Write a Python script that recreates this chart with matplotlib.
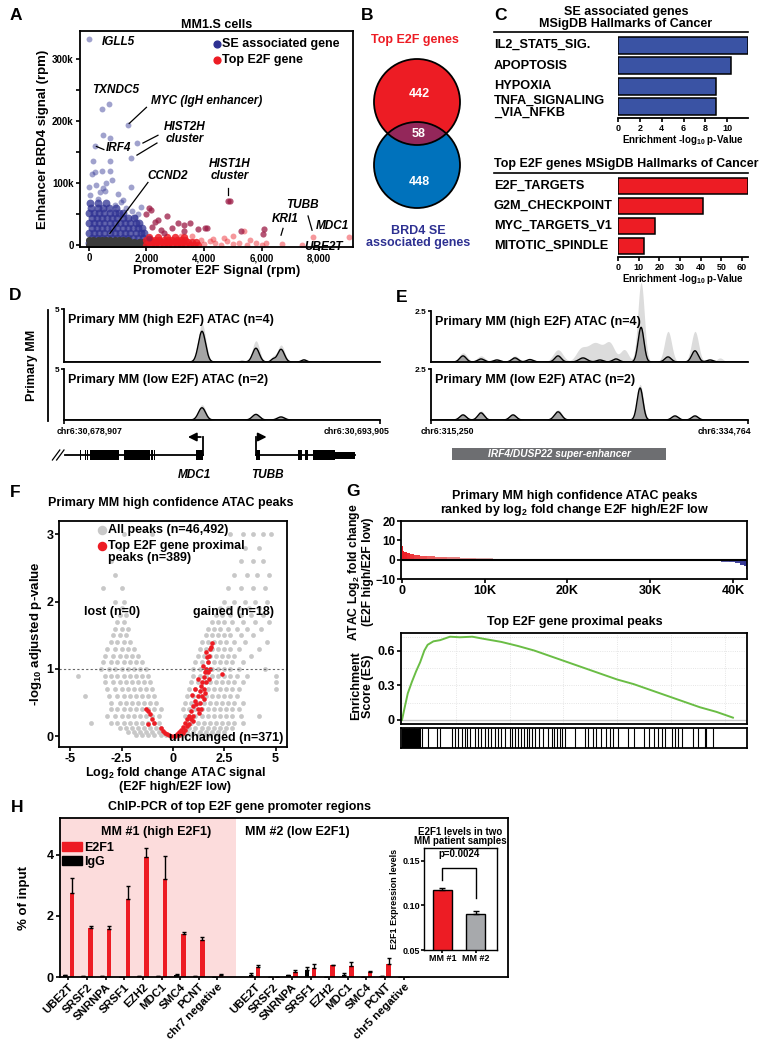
import numpy as np
import matplotlib
matplotlib.use('Agg')
import matplotlib.pyplot as plt
import matplotlib.transforms as mtrans
from matplotlib.patches import Circle, Rectangle
from matplotlib.lines import Line2D
from matplotlib.colors import LinearSegmentedColormap

plt.rcParams['font.family'] = ['Liberation Sans', 'DejaVu Sans']
plt.rcParams['font.weight'] = 'bold'
plt.rcParams['axes.labelweight'] = 'bold'
plt.rcParams['mathtext.fontset'] = 'custom'
plt.rcParams['mathtext.rm'] = 'Liberation Sans:bold'
plt.rcParams['mathtext.bf'] = 'Liberation Sans:bold'
plt.rcParams['mathtext.it'] = 'Liberation Sans:bold:italic'
plt.rcParams['mathtext.default'] = 'bf'
plt.rcParams['axes.linewidth'] = 1.3
plt.rcParams['xtick.major.width'] = 1.2
plt.rcParams['ytick.major.width'] = 1.2
plt.rcParams['xtick.major.size'] = 3
plt.rcParams['ytick.major.size'] = 3

RED = '#ED1C24'
BLUE = '#2E3192'
VBLUE = '#0072BC'
PURPLE = '#93275A'
MAROON = '#9B1B45'

# ---------------- A: MM1.S scatter (x: promoter E2F rpm, y: enhancer BRD4 k rpm)
se_out_x = [0, 450, 700, 1350, 1670, 1460, 209, 500, 750, 150, 750, 750, 200, 120, 0, 450,
            1450, 500, 550, 50, 300, 1200, 1100, 900, 600, 1000, 250, 800, 400, 1300, 1500,
            1700, 1800, 1600]
se_out_y = [332, 220, 228, 193, 164, 140, 160, 178, 172, 135, 135, 120, 118, 115, 93, 120,
            93, 92, 88, 80, 75, 72, 70, 65, 100, 82, 97, 105, 85, 60, 55, 50, 62, 45]
se_rows = {
    4: [0, 180, 360, 540, 720, 900, 1080, 1260, 1440, 1620, 1800, 1950],
    12: [90, 270, 450, 630, 810, 990, 1170, 1350, 1530, 1710, 1890],
    20: [0, 180, 360, 540, 720, 900, 1080, 1260, 1440, 1620, 1800, 1920],
    28: [90, 270, 450, 630, 810, 990, 1170, 1350, 1530, 1710, 1850],
    36: [0, 180, 360, 540, 720, 900, 1080, 1260, 1440, 1620, 1750],
    44: [90, 270, 450, 630, 810, 990, 1170, 1350, 1550],
    52: [0, 180, 360, 540, 720, 900, 1050, 1200],
    60: [80, 300, 500, 700, 950],
    68: [50, 300, 600],
}
bg_rows = {
    1: [0, 150, 300, 450, 600, 750, 900, 1050, 1200, 1350, 1500, 1650, 1800, 1950],
    5: [80, 230, 380, 530, 680, 830, 980, 1130, 1280, 1430, 1580, 1730, 1880],
    8: [0, 150, 300, 450, 600, 750, 900, 1050, 1200, 1350],
}
e2f_rows = {
    1: [2000, 2150, 2300, 2450, 2600, 2750, 2900, 3050, 3200, 3350, 3500, 3650, 3800],
    5: [2080, 2230, 2380, 2530, 2680, 2830, 2980, 3130, 3280, 3430, 3580, 3730],
    9: [2000, 2150, 2300, 2450, 2600, 2750, 2900, 3050, 3200, 3350],
    13: [2100, 2400, 2700, 3000, 3300],
}
e2f_out_x = [4000, 4200, 4400, 4600, 4800, 5000, 5200, 5500, 5800, 6000, 6150, 4300, 4700,
             3600, 3200, 5000, 5600, 6700, 7400, 7800, 9050, 5400, 3900]
e2f_out_y = [2, 6, 3, 1, 6, 2, 4, 1, 3, 1, 3, 10, 12, 15, 14, 15, 8, 2, 0, 13, 13, 22, 8]
both_x = [2100, 2150, 2000, 2700, 2400, 2300, 3100, 3300, 4050, 4100, 4850, 4900, 6100, 6050,
          2500, 3300, 2200, 2600, 2900, 3500, 5300, 3800, 2100]
both_y = [60, 56, 50, 47, 40, 38, 35, 32, 28, 27, 71, 71, 26, 18, 25, 22, 30, 20, 28, 35,
          22, 26, 12]

# ---------------- B: venn
venn_counts = [442, 58, 448]

# ---------------- C: hallmark enrichment
c1_terms = ['IL2_STAT5_SIG.', 'APOPTOSIS', 'HYPOXIA', 'TNFA_SIGNALING\n_VIA_NFKB']
c1_vals = [11.9, 10.3, 9.0, 9.0]
c2_terms = ['E2F_TARGETS', 'G2M_CHECKPOINT', 'MYC_TARGETS_V1', 'MITOTIC_SPINDLE']
c2_vals = [62.8, 41.1, 17.9, 12.6]

# ---------------- D/E: ATAC tracks, peaks as (centre kb, height, width kb)
d_span = 14.998
d_hi_mean = [(6.55, 2.9, 0.17), (8.45, 0.05, 0.1), (9.11, 1.3, 0.16), (9.92, 0.25, 0.1),
             (10.3, 1.2, 0.16), (11.39, 0.2, 0.12)]
d_hi_max = [(6.55, 3.6, 0.18), (9.11, 2.0, 0.17), (9.92, 0.45, 0.12), (10.3, 1.6, 0.17),
            (11.39, 0.3, 0.14), (12.29, 0.15, 0.1)]
d_lo_mean = [(6.55, 1.2, 0.17), (9.11, 0.55, 0.17), (10.3, 0.3, 0.17)]
d_lo_max = [(6.55, 1.5, 0.18), (9.11, 0.65, 0.18), (10.3, 0.38, 0.18)]
e_span = 19.514
e_hi_mean = [(1.97, 0.3, 0.2), (3.08, 0.15, 0.2), (4.06, 0.1, 0.2), (5.17, 0.2, 0.2),
             (6.09, 0.12, 0.2), (7.82, 0.3, 0.2), (9.36, 0.2, 0.25), (10.4, 0.1, 0.2),
             (11.39, 0.15, 0.2), (12.93, 1.7, 0.18), (14.59, 0.25, 0.2), (16.25, 0.55, 0.2),
             (17.18, 0.1, 0.2)]
e_hi_max = [(1.97, 0.45, 0.25), (3.08, 0.3, 0.25), (5.17, 0.3, 0.25), (7.82, 0.6, 0.3),
            (9.2, 0.5, 0.3), (10.1, 0.95, 0.5), (11.02, 0.8, 0.3), (11.9, 0.6, 0.25),
            (12.93, 3.9, 0.2), (14.59, 1.5, 0.22), (16.25, 1.5, 0.22), (17.79, 0.2, 0.2)]
e_lo_mean = [(1.97, 0.25, 0.2), (3.08, 0.35, 0.2), (5.05, 0.25, 0.2), (7.82, 0.4, 0.22),
             (12.87, 1.57, 0.18), (15.02, 0.2, 0.2), (16.25, 0.2, 0.2)]
e_lo_max = [(1.97, 0.3, 0.22), (3.08, 0.45, 0.22), (5.05, 0.3, 0.22), (7.82, 0.5, 0.24),
            (12.87, 1.75, 0.2), (15.02, 0.25, 0.22), (16.25, 0.25, 0.22)]
# gene models (kb from track start): exon start, end, height
mdc1_exons = [(0.74, 0.8, 10), (0.98, 1.04, 10), (1.1, 1.16, 10), (1.23, 2.61, 10),
              (2.85, 4.08, 10), (4.15, 4.21, 10), (4.25, 4.31, 10), (6.27, 6.6, 10)]
mdc1_span = (0.05, 6.6)
tubb_exons = [(9.11, 9.3, 10), (11.1, 11.3, 10), (11.44, 11.58, 10), (11.82, 12.86, 10),
              (12.86, 13.81, 7)]
tubb_span = (9.11, 13.81)
se_region = (1.29, 14.47)

# ---------------- F: volcano
vol_rows = {
    0.02: [-1.8, -1.5, -1.2, -0.9, -0.6, -0.35, 0.35, 0.6, 0.9, 1.2, 1.5, 1.8, 2.1],
    0.06: [-2.2, -1.9, -1.6, -1.3, -1.0, -0.7, -0.5, 0.5, 0.7, 1.0, 1.3, 1.6, 1.9, 2.2, 2.5],
    0.12: [-2.6, -2.3, -2.0, -1.7, -1.4, -1.1, -0.8, -0.6, 0.6, 0.8, 1.1, 1.4, 1.7, 2.0, 2.3,
           2.6, 2.9],
    0.2: [-3.0, -2.7, -2.4, -2.1, -1.8, -1.5, -1.2, -0.9, -0.7, 0.7, 0.9, 1.2, 1.5, 1.8, 2.1,
          2.4, 2.7, 3.0, 3.4, -4.0],
    0.3: [-3.2, -2.8, -2.5, -2.2, -1.9, -1.6, -1.3, -1.0, -0.7, 0.6, 0.8, 1.1, 1.4, 1.7, 2.0,
          2.3, 2.6, 2.9, 3.3, 4.2],
    0.4: [-3.0, -2.7, -2.4, -2.1, -1.8, -1.5, -1.2, -0.9, -0.6, 0.5, 0.8, 1.1, 1.4, 1.7, 2.0,
          2.3, 2.6, 2.9, 3.2],
    0.5: [-3.0, -2.6, -2.3, -2.0, -1.7, -1.4, -1.1, -0.8, 0.6, 0.9, 1.2, 1.5, 1.8, 2.1, 2.4,
          2.7, 3.0, 3.4],
    0.6: [-3.1, -2.7, -2.4, -2.1, -1.8, -1.5, -1.2, -0.9, 0.7, 1.0, 1.3, 1.6, 1.9, 2.2, 2.5,
          2.8, 3.1, -4.3],
    0.7: [-3.2, -2.8, -2.5, -2.2, -1.9, -1.6, -1.3, -1.0, 0.8, 1.1, 1.4, 1.7, 2.0, 2.3, 2.6,
          2.9, 3.2, 5.0],
    0.8: [-3.3, -2.9, -2.6, -2.3, -2.0, -1.7, -1.4, -1.1, 0.9, 1.2, 1.5, 1.8, 2.1, 2.4, 2.7,
          3.0, 3.4, 5.0],
    0.9: [-3.3, -3.0, -2.7, -2.4, -2.1, -1.8, -1.5, -1.2, 1.0, 1.3, 1.6, 1.9, 2.2, 2.5, 2.8,
          3.1, 3.6, 5.0, -4.6],
    1.0: [-3.5, -3.1, -2.8, -2.5, -2.2, -1.9, -1.6, -1.3, 1.0, 1.3, 1.6, 1.9, 2.2, 2.5, 2.8,
          3.2, 4.5],
    1.1: [-3.4, -3.0, -2.7, -2.4, -2.1, -1.8, -1.5, 1.1, 1.4, 1.7, 2.0, 2.3, 2.6, 2.9, 3.4],
    1.2: [-3.3, -2.9, -2.6, -2.3, -2.0, -1.7, 1.2, 1.5, 1.8, 2.1, 2.4, 2.7, 3.0, 3.8],
    1.3: [-3.2, -2.8, -2.5, -2.2, -1.9, 1.3, 1.6, 1.9, 2.2, 2.5, 2.8, 3.2, 4.2],
    1.4: [-3.0, -2.7, -2.4, -2.1, 1.4, 1.7, 2.0, 2.3, 2.6, 3.0, 3.5, 4.6],
    1.5: [-2.9, -2.6, -2.3, 1.6, 1.9, 2.2, 2.5, 2.8, 3.3, 3.9],
    1.6: [-2.8, -2.5, -2.2, 1.7, 2.0, 2.3, 2.7, 3.1, 3.6, 4.3],
    1.7: [-2.7, -2.4, 1.9, 2.2, 2.5, 2.9, 3.4, 4.0, 4.7],
    1.8: [-2.6, -2.3, 2.1, 2.4, 2.8, 3.3, 3.8, 4.4],
    1.9: [-2.5, 2.3, 2.7, 3.2, 3.7, 4.2],
    2.0: [-2.4, -2.8, 2.5, 3.0, 3.5, 4.0, 4.6],
    2.2: [-2.5, -3.4, 2.7, 3.3, 3.9, 4.5],
    2.4: [-2.8, 3.0, 3.6, 4.1, 4.7],
    2.6: [-3.0, 3.3, 3.9, 4.4],
    2.8: [-2.6, 3.5, 4.2],
    3.0: [-2.4, -1.0, 2.8, 3.4, 3.9, 4.4, 4.8],
}
vred_x = [-1.3, -1.2, -1.1, -1.0, -0.9, -1.2, -0.6, -0.5, -0.4, -0.3, -0.2, -0.1, 0.05, 0.1,
          0.2, 0.3, 0.4, 0.5, 0.6, 0.7, 0.8, 0.9, 1.0, 1.1, 1.2, 1.3, 1.35, 1.4, 1.5, 1.55,
          1.6, 1.7, 1.75, 1.8, 1.9, 1.85, 2.4, 1.6, 0.9, 1.2, 1.4, 1.1, 1.5, 1.3, 0.7, 0.5,
          1.0, 1.6, 1.2, 1.7, 1.45, 1.65, 0.3, 0.6, 0.8, 1.0, 1.25, 1.5, 1.75, 1.35, 1.15,
          0.95, 1.55, 1.8]
vred_y = [0.40, 0.37, 0.33, 0.25, 0.20, 0.18, 0.12, 0.08, 0.05, 0.03, 0.02, 0.01, 0.0, 0.01,
          0.03, 0.06, 0.10, 0.13, 0.20, 0.25, 0.30, 0.38, 0.45, 0.52, 0.60, 0.68, 0.75, 0.80,
          0.88, 0.95, 1.00, 1.10, 1.20, 1.30, 1.38, 1.33, 0.93, 1.25, 0.25, 0.40, 0.60, 0.70,
          0.70, 0.50, 0.15, 0.05, 0.30, 0.80, 0.85, 0.95, 1.05, 1.18, 0.02, 0.10, 0.18, 0.22,
          0.35, 0.55, 0.85, 0.40, 0.48, 0.62, 0.65, 1.0]

# ---------------- G: ranked fold change, running ES, hit positions (K ranks)
rank_k = [0, 0.05, 0.15, 0.3, 0.6, 1.0, 1.5, 2.2, 3.0, 4.0, 5.5, 7.0, 9.0, 11.0, 13.5, 16.0,
          19.0, 22.0, 25.0, 27.0, 29.0, 31.0, 33.0, 35.0, 37.0, 38.5, 39.5, 40.3, 40.9, 41.3,
          41.6]
lfc = [19.0, 7.0, 4.5, 3.8, 3.3, 2.8, 2.4, 2.0, 1.7, 1.4, 1.2, 1.0, 0.8, 0.6, 0.45, 0.3,
       0.15, 0.05, -0.05, -0.15, -0.25, -0.35, -0.5, -0.7, -0.9, -1.1, -1.4, -1.8, -2.5,
       -3.5, -5.0]
es_rank = [0, 0.3, 0.7, 1.2, 1.7, 2.2, 2.7, 3.1, 3.8, 4.6, 5.2, 5.8, 7.0, 8.5, 10.0, 12.0,
           14.0, 16.0, 18.0, 20.0, 22.0, 24.0, 26.0, 28.0, 30.0, 32.0, 34.0, 36.0, 38.0, 40.0]
es = [0, 0.1, 0.23, 0.33, 0.42, 0.5, 0.6, 0.65, 0.68, 0.69, 0.705, 0.72, 0.715, 0.72, 0.7,
      0.675, 0.64, 0.6, 0.55, 0.5, 0.45, 0.4, 0.35, 0.31, 0.26, 0.21, 0.16, 0.11, 0.07, 0.02]
hits = [0, 0.1, 0.2, 0.3, 0.4, 0.5, 0.6, 0.7, 0.8, 0.9, 1.0, 1.1, 1.2, 1.3, 1.4, 1.5, 1.6,
        1.7, 1.8, 1.9, 2.0, 2.1, 2.2, 2.38, 3.1, 4.19, 4.59, 6.0, 6.4, 6.8, 7.2, 7.6, 7.8,
        8.2, 8.8, 9.2, 9.6, 10.0, 10.4, 10.8, 11.2, 11.6, 12.0, 12.4, 13.05, 13.3, 13.6,
        14.05, 14.4, 14.7, 15.1, 15.3, 15.7, 16.1, 16.5, 17.1, 17.7, 18.1, 18.4, 18.7, 19.1,
        19.4, 19.7, 20.9, 22.1, 22.5, 23.1, 23.5, 24.1, 24.7, 25.1, 25.5, 26.1, 27.3, 28.1,
        29.2, 29.8, 30.4, 31.0, 31.4, 31.8, 32.6, 33.0, 33.4, 33.8, 35.2, 35.8, 36.6, 36.8,
        37.6]

# ---------------- H: ChIP-PCR (% of input)
h_genes1 = ['UBE2T', 'SRSF2', 'SNRNPA', 'SRSF1', 'EZH2', 'MDC1', 'SMC4', 'PCNT', 'chr7 negative']
h_genes2 = ['UBE2T', 'SRSF2', 'SNRNPA', 'SRSF1', 'EZH2', 'MDC1', 'SMC4', 'PCNT', 'chr5 negative']
e2f1_mm1 = [2.75, 1.6, 1.57, 2.55, 3.93, 3.2, 1.41, 1.22, 0.07]
e2f1_mm1_err = [0.5, 0.07, 0.1, 0.43, 0.3, 0.76, 0.07, 0.08, 0.04]
igg_mm1 = [0.05, 0.02, 0.03, 0.0, 0.02, 0.03, 0.07, 0.03, 0.0]
igg_mm1_err = [0.01, 0.01, 0.01, 0.0, 0.01, 0.01, 0.02, 0.01, 0.0]
e2f1_mm2 = [0.33, 0.0, 0.15, 0.3, 0.38, 0.35, 0.15, 0.43, 0.0]
e2f1_mm2_err = [0.05, 0.0, 0.07, 0.12, 0.02, 0.15, 0.03, 0.2, 0.0]
igg_mm2 = [0.08, 0.0, 0.05, 0.22, 0.01, 0.08, 0.0, 0.03, 0.01]
igg_mm2_err = [0.06, 0.0, 0.02, 0.1, 0.0, 0.05, 0.0, 0.01, 0.0]
inset_samples = ['MM #1', 'MM #2']
inset_vals = [0.117, 0.091]
inset_err = [0.003, 0.003]

# ======================================================================
W, H = 766.0, 1050.0
fig = plt.figure(figsize=(7.66, 10.5), dpi=100)


def pax(x0, y0, x1, y1):
    return fig.add_axes([x0 / W, 1 - y1 / H, (x1 - x0) / W, (y1 - y0) / H])


def ftxt(x, y, s, **kw):
    kw.setdefault('ha', 'center')
    kw.setdefault('va', 'center')
    return fig.text(x / W, 1 - y / H, s, **kw)


def fline(xs, ys, **kw):
    fig.add_artist(Line2D([x / W for x in xs], [1 - y / H for y in ys], **kw))


def flat(rows):
    xs = [x for k, v in rows.items() for x in v]
    ys = [k for k, v in rows.items() for x in v]
    return xs, ys


for letter, x, y in [('A', 16, 16), ('B', 367, 16), ('C', 500, 15), ('D', 15, 295),
                     ('E', 402, 298), ('F', 15, 493), ('G', 353, 491), ('H', 17, 808)]:
    ftxt(x, y, letter, fontsize=12.5)

# ---------------- A
ax = pax(80, 31, 353, 247)
bx, by = flat(se_rows)
ax.scatter(bx, by, s=32, color=BLUE, alpha=0.75, lw=0)
ax.scatter(se_out_x, se_out_y, s=18, color=BLUE, alpha=0.45, lw=0)
gx, gy = flat(bg_rows)
ax.scatter(gx, gy, s=26, color='#3C3C3C', lw=0)
rx, ry = flat(e2f_rows)
ax.scatter(rx, ry, s=28, color=RED, alpha=0.85, lw=0)
ax.scatter(e2f_out_x, e2f_out_y, s=18, color=RED, alpha=0.45, lw=0)
ax.scatter(both_x, both_y, s=20, color=MAROON, alpha=0.75, lw=0)
ax.set_xlim(-310, 9180)
ax.set_ylim(-3, 345)
ax.set_yticks([0, 100, 200, 300])
ax.set_yticklabels(['0', '100k', '200k', '300k'], fontsize=7)
ax.set_yticks([50, 150, 250], minor=True)
ax.tick_params(axis='y', which='minor', length=3, width=1.2)
ax.set_xticks([0, 2000, 4000, 6000, 8000])
ax.set_xticklabels(['0', '2,000', '4,000', '6,000', '8,000'], fontsize=7)
ax.tick_params(axis='both', pad=1.5)
ax.set_title('MM1.S cells', fontsize=9, fontweight='bold', pad=2)
ax.set_ylabel('Enhancer BRD4 signal (rpm)', fontsize=9.5, labelpad=2)
ax.set_xlabel('Promoter E2F Signal (rpm)', fontsize=9.5, labelpad=1)
ax.scatter([0.502], [0.94], s=24, color=BLUE, transform=ax.transAxes)
ax.scatter([0.502], [0.866], s=24, color=RED, transform=ax.transAxes)
ax.text(0.52, 0.94, 'SE associated gene', transform=ax.transAxes, fontsize=9, va='center')
ax.text(0.52, 0.866, 'Top E2F gene', transform=ax.transAxes, fontsize=9, va='center')
it = dict(fontsize=8.5, fontstyle='italic', va='center')
ax.text(452, 327, 'IGLL5', **it)
ax.text(104, 250, 'TXNDC5', **it)
ax.text(2150, 232, 'MYC (IgH enhancer)', **it)
ax.plot([1400, 2000], [196, 222], color='k', lw=0.9)
ax.text(3339, 181, 'HIST2H\ncluster', ha='center', va='center', fontsize=8.5,
        fontstyle='italic', linespacing=0.95)
ax.plot([1878, 2400], [164.5, 177], color='k', lw=0.9)
ax.plot([1670, 2365], [145, 164.5], color='k', lw=0.9)
ax.text(591, 156, 'IRF4', **it)
ax.plot([260, 520], [159, 154], color='k', lw=0.9)
ax.text(2017, 111, 'CCND2', **it)
ax.plot([2052, 730], [101, 19], color='k', lw=0.9)
ax.text(4904, 121, 'HIST1H\ncluster', ha='center', va='center', fontsize=8.5,
        fontstyle='italic', linespacing=0.95)
ax.plot([4850, 4850], [92, 80], color='k', lw=0.9)
ax.text(6850, 64.5, 'TUBB', **it)
ax.plot([7617, 7757], [47, 24], color='k', lw=0.9)
ax.text(6350, 42, 'KRI1', **it)
ax.plot([6748, 6678], [27, 16], color='k', lw=0.9)
ax.text(7900, 30.6, 'MDC1', **it)
ax.text(7500, -3, 'UBE2T', **it)

# ---------------- B
ax = pax(365, 50, 475, 215)
ax.set_xlim(365, 475)
ax.set_ylim(215, 50)
ax.axis('off')
c_red = Circle((417, 102), 43, fc=RED, ec='none')
c_blue = Circle((417, 165), 43, fc=VBLUE, ec='none')
ax.add_patch(c_red)
ax.add_patch(c_blue)
lens = Circle((417, 102), 43, fc=PURPLE, ec='none')
ax.add_patch(lens)
lens.set_clip_path(c_blue)
ax.add_patch(Circle((417, 102), 43, fc='none', ec='k', lw=1.3))
ax.add_patch(Circle((417, 165), 43, fc='none', ec='k', lw=1.3))
ax.text(419, 94, str(venn_counts[0]), color='white', fontsize=9, ha='center', va='center')
ax.text(419, 134, str(venn_counts[1]), color='white', fontsize=9, ha='center', va='center')
ax.text(419, 182, str(venn_counts[2]), color='white', fontsize=9, ha='center', va='center')
ftxt(415, 40, 'Top E2F genes', color=RED, fontsize=9)
ftxt(418, 237, 'BRD4 SE\nassociated genes', color=BLUE, fontsize=9, linespacing=1.05)


# ---------------- C
def hallmark(y0, y1, terms, vals, color, xmax, ticks):
    a = pax(618, y0, 748, y1)
    pos = np.arange(len(terms))
    a.barh(pos, vals, height=0.82, color=color, edgecolor='k', lw=1.1)
    a.set_ylim(len(terms) - 0.45, -0.5)
    a.set_xlim(0, xmax)
    for s in ['left', 'top', 'right']:
        a.spines[s].set_visible(False)
    a.set_yticks([])
    a.set_xticks(ticks)
    a.tick_params(axis='x', labelsize=6.5, pad=1)
    tr = mtrans.blended_transform_factory(fig.transFigure, a.transData)
    for i, t in enumerate(terms):
        a.text(494 / W, i, t, transform=tr, ha='left', va='center', fontsize=9.2,
               linespacing=0.92)
    return a


a = hallmark(35, 118, c1_terms, c1_vals, '#3A53A4', 11.9, [0, 2, 4, 6, 8, 10])
a.set_xlabel('Enrichment -log$_{10}$ p-Value', fontsize=7, labelpad=0.5)
ftxt(626, 12, 'SE associated genes', fontsize=9)
ftxt(626, 24, 'MSigDB Hallmarks of Cancer', fontsize=9)
fline([494, 748], [32, 32], color='k', lw=1.2)
a = hallmark(176, 257, c2_terms, c2_vals, RED, 62.9, [0, 10, 20, 30, 40, 50, 60])
a.set_xlabel('Enrichment -log$_{10}$ p-Value', fontsize=7, labelpad=0.5)
ftxt(626, 164, 'Top E2F genes MSigDB Hallmarks of Cancer', fontsize=9)
fline([494, 748], [173, 173], color='k', lw=1.2)


# ---------------- D / E
def peak_curve(grid, peaks):
    out = np.zeros_like(grid)
    for c, h, w in peaks:
        out += h * np.exp(-0.5 * ((grid - c) / w) ** 2)
    return out


def track(box, span, ymax, mean_pk, max_pk, label, tlabel, ends):
    a = pax(*box)
    g = np.linspace(0, span, 1500)
    m = peak_curve(g, mean_pk)
    mx = np.maximum(peak_curve(g, max_pk), m)
    a.fill_between(g, 0, mx, color='#DCDCDC', lw=0, clip_on=False)
    a.fill_between(g, 0, m, color='#A4A4A4', lw=0)
    a.plot(g, m, color='k', lw=1.0)
    a.set_xlim(0, span)
    a.set_ylim(0, ymax)
    a.spines['top'].set_visible(False)
    a.spines['right'].set_visible(False)
    a.set_yticks([ymax])
    a.set_yticklabels([tlabel], fontsize=6)
    a.tick_params(axis='y', length=2, pad=1)
    if ends:
        a.set_xticks([0, span])
        a.set_xticklabels(['', ''])
    else:
        a.set_xticks([])
    frac = 1 - 11.0 / (box[3] - box[1])
    a.text(0.012, frac, label, transform=a.transAxes, fontsize=9, va='center')
    return a


track((64, 309, 380, 362), d_span, 5, d_hi_mean, d_hi_max,
      'Primary MM (high E2F) ATAC (n=4)', '5', False)
track((64, 369, 380, 420), d_span, 5, d_lo_mean, d_lo_max,
      'Primary MM (low E2F) ATAC (n=2)', '5', True)
ftxt(57, 431, 'chr6:30,678,907', fontsize=6.3, ha='left')
ftxt(390, 431, 'chr6:30,693,905', fontsize=6.3, ha='right')
ftxt(32, 365, 'Primary MM', fontsize=9, rotation=90)
fline([48, 48], [310, 421], color='k', lw=1.3)

track((431, 311, 748, 362), e_span, 2.5, e_hi_mean, e_hi_max,
      'Primary MM (high E2F) ATAC (n=4)', '2.5', False)
track((431, 369, 748, 420), e_span, 2.5, e_lo_mean, e_lo_max,
      'Primary MM (low E2F) ATAC (n=2)', '2.5', True)
ftxt(421, 431, 'chr6:315,250', fontsize=6.3, ha='left')
ftxt(751, 431, 'chr6:334,764', fontsize=6.3, ha='right')

# gene models under D
ga = pax(40, 435, 383, 482)
ga.set_xlim(-1.139, 15.142)
ga.set_ylim(47, 0)
ga.axis('off')
ga.plot(mdc1_span, [20, 20], color='k', lw=1.3)
ga.plot(tubb_span, [20, 20], color='k', lw=1.3)
for s, e, h in mdc1_exons + tubb_exons:
    ga.add_patch(Rectangle((s, 20 - h / 2), e - s, h, color='k', lw=0))
ga.plot([-0.55, -0.2], [25, 15], color='k', lw=0.9)
ga.plot([-0.35, 0.0], [25, 15], color='k', lw=0.9)
ga.plot([mdc1_span[1], mdc1_span[1]], [20, 2], color='k', lw=1.3)
ga.annotate('', xy=(5.75, 2), xytext=(mdc1_span[1] + 0.03, 2),
            arrowprops=dict(arrowstyle='-|>,head_length=0.5,head_width=0.25', lw=1.3, color='k'))
ga.plot([tubb_span[0], tubb_span[0]], [20, 2], color='k', lw=1.3)
ga.annotate('', xy=(9.75, 2), xytext=(tubb_span[0] - 0.03, 2),
            arrowprops=dict(arrowstyle='-|>,head_length=0.5,head_width=0.25', lw=1.3, color='k'))
ga.text(6.2, 40, 'MDC1', fontsize=8.5, fontstyle='italic', ha='center', va='center')
ga.text(9.65, 40, 'TUBB', fontsize=8.5, fontstyle='italic', ha='center', va='center')

# super-enhancer bar under E
sa = pax(431, 446, 748, 462)
sa.set_xlim(0, e_span)
sa.set_ylim(0, 1)
sa.axis('off')
sa.add_patch(Rectangle((se_region[0], 0.1), se_region[1] - se_region[0], 0.75,
                       color='#6D6E71', lw=0))
sa.text(sum(se_region) / 2, 0.48, 'IRF4/DUSP22 super-enhancer', color='white',
        fontsize=7.3, fontstyle='italic', ha='center', va='center')

# ---------------- F
ax = pax(59, 521, 287, 747)
vx, vy = flat(vol_rows)
ax.scatter(vx, vy, s=12, color='#C8C8C8', lw=0)
ax.scatter(vred_x, vred_y, s=11, color=RED, lw=0)
ax.axhline(1, color='#666666', lw=0.8, ls=(0, (2, 2)))
ax.set_xlim(-5.55, 5.56)
ax.set_ylim(-0.16, 3.2)
ax.set_xticks([-5, -2.5, 0, 2.5, 5])
ax.set_xticklabels(['-5', '-2.5', '0', '2.5', '5'])
ax.set_yticks([0, 1, 2, 3])
ax.tick_params(labelsize=9, pad=1)
ax.scatter([0.189], [0.96], s=34, color='#C8C8C8', transform=ax.transAxes)
ax.scatter([0.189], [0.889], s=34, color=RED, transform=ax.transAxes)
ax.text(0.215, 0.96, 'All peaks (n=46,492)', transform=ax.transAxes, fontsize=9, va='center')
ax.text(0.215, 0.915, 'Top E2F gene proximal\npeaks (n=389)', transform=ax.transAxes,
        fontsize=9, va='top', linespacing=0.95)
ax.text(-2.95, 1.845, 'lost (n=0)', fontsize=9, ha='center', va='center')
ax.text(2.95, 1.845, 'gained (n=18)', fontsize=9, ha='center', va='center')
ax.text(2.6, -0.03, 'unchanged (n=371)', fontsize=9, ha='center', va='center')
ftxt(171, 503, 'Primary MM high confidence ATAC peaks', fontsize=9)
ftxt(36, 634, '-log$_{10}$ adjusted p-value', fontsize=9.5, rotation=90)
ftxt(175, 773, 'Log$_2$ fold change ATAC signal', fontsize=9)
ftxt(175, 787, '(E2F high/E2F low)', fontsize=9)

# ---------------- G
ax = pax(401, 521, 747, 579)
edges = rank_k + [41.7]
widths = np.diff(edges)
cmap = LinearSegmentedColormap.from_list('rk', [(0, RED), (0.06, '#EE5A5A'), (0.2, '#E2AAAA'),
                                                 (0.3, '#CFCFCF'), (0.42, '#F4F4F4'),
                                                 (0.62, '#F4F4F4'), (0.75, '#C8C8D4'),
                                                 (0.85, '#8A8CC0'), (1, BLUE)])
cols = [cmap(r / 41.7) for r in rank_k]
ax.bar(rank_k, lfc, width=widths, align='edge', color=cols, lw=0)
ax.axhline(0, color='k', lw=1.5)
ax.set_xlim(-0.12, 41.7)
ax.set_ylim(-9.8, 20)
ax.set_yticks([20, 10, 0, -10])
ax.set_xticks([0, 10, 20, 30, 40])
ax.set_xticklabels(['0', '10K', '20K', '30K', '40K'])
ax.tick_params(labelsize=9, pad=1.5)
ax.tick_params(axis='y', labelsize=8.5, pad=1)
ftxt(575, 496, 'Primary MM high confidence ATAC peaks', fontsize=9)
ftxt(575, 510, 'ranked by log$_2$ fold change E2F high/E2F low', fontsize=9)
ftxt(360, 572, 'ATAC Log$_2$ fold change\n(E2F high/E2F low)', fontsize=8.7, rotation=90,
     linespacing=1.0)

ax = pax(401, 633, 747, 724)
for gx_ in [6.5, 13, 19.5, 26, 32.5, 39]:
    ax.axvline(gx_, color='#DDDDDD', lw=0.6, ls=':')
for gy_ in [0.15, 0.3, 0.45, 0.6, 0.72]:
    ax.axhline(gy_, color='#DDDDDD', lw=0.6, ls=':')
ax.axhline(0, color='#C8C8C8', lw=1.0)
ax.plot(es_rank, es, color='#6ABD45', lw=1.4)
ax.set_xlim(-0.12, 41.7)
ax.set_ylim(-0.035, 0.752)
ax.set_yticks([0, 0.3, 0.6])
ax.set_yticklabels(['0', '0.3', '0.6'])
ax.set_xticks([])
ax.tick_params(labelsize=9, pad=1.5)
ftxt(575, 622, 'Top E2F gene proximal peaks', fontsize=9)
ftxt(362, 686, 'Enrichment\nScore (ES)', fontsize=9, rotation=90, linespacing=1.0)

ax = pax(401, 728, 747, 748)
ax.vlines(hits, 0, 1, color='k', lw=0.8)
ax.set_xlim(-0.12, 41.7)
ax.set_ylim(0, 1)
ax.set_xticks([])
ax.set_yticks([])

# ---------------- H
ax = pax(60, 818, 508, 977)
p1 = np.arange(len(h_genes1))
p2 = np.arange(len(h_genes2)) + len(h_genes1) + 1
ax.axvspan(-0.45, 9.0, color='#FCDCDC', lw=0, zorder=0)
off, bw = 0.19, 0.24
ek = dict(lw=1, capsize=1.2, capthick=1)
ax.bar(p1 - off, igg_mm1, bw, color='k', zorder=2,
       yerr=[np.zeros(len(p1)), igg_mm1_err], error_kw=ek)
ax.bar(p1 + off, e2f1_mm1, bw, color=RED, zorder=2,
       yerr=[np.zeros(len(p1)), e2f1_mm1_err], error_kw=ek)
ax.bar(p2 - off, igg_mm2, bw, color='k', zorder=2,
       yerr=[np.zeros(len(p2)), igg_mm2_err], error_kw=ek)
ax.bar(p2 + off, e2f1_mm2, bw, color=RED, zorder=2,
       yerr=[np.zeros(len(p2)), e2f1_mm2_err], error_kw=ek)
ax.set_xlim(-0.45, 23.6)
ax.set_ylim(0, 5.2)
ax.set_yticks([0, 2, 4])
ax.tick_params(axis='y', labelsize=9, pad=1.5)
ax.set_xticks(list(p1) + list(p2))
ax.set_xticklabels(h_genes1 + h_genes2, rotation=45, ha='right', rotation_mode='anchor',
                   fontsize=8.2)
ax.tick_params(axis='x', length=2, pad=1.5)
ax.set_ylabel('% of input', fontsize=9.5, labelpad=12)
ax.text(4.7, 4.75, 'MM #1 (high E2F1)', fontsize=9, ha='center', va='center')
ax.text(12.3, 4.75, 'MM #2 (low E2F1)', fontsize=9, ha='center', va='center')
ax.legend([Rectangle((0, 0), 1, 1, color=RED), Rectangle((0, 0), 1, 1, color='k')],
          ['E2F1', 'IgG'], loc='upper left', bbox_to_anchor=(0.004, 0.85), frameon=False,
          fontsize=9, handlelength=1.6, handleheight=0.7, handletextpad=0.2,
          labelspacing=0.15, borderaxespad=0, borderpad=0)
ftxt(240, 807, 'ChIP-PCR of top E2F gene promoter regions', fontsize=9)

ai = pax(424, 848, 497, 950)
ai.bar([0, 1], inset_vals, 0.57, color=[RED, '#A7A9AC'], edgecolor='k', lw=1.0,
       yerr=[[0, 0], inset_err], error_kw=dict(lw=1, capsize=2.5, capthick=1))
ai.set_xlim(-0.55, 1.63)
ai.set_ylim(0.05, 0.1646)
ai.set_yticks([0.05, 0.10, 0.15])
ai.set_yticklabels(['0.05', '0.10', '0.15'])
ai.set_xticks([0, 1])
ai.set_xticklabels(inset_samples)
ai.tick_params(labelsize=6.5, pad=1, length=2)
for s in ai.spines.values():
    s.set_linewidth(1.0)
ai.plot([0, 0, 1, 1], [0.1292, 0.1416, 0.1416, 0.1079], color='k', lw=1.0)
ai.text(0.5, 0.1573, 'p=0.0024', fontsize=7, ha='center', va='center')
ai.set_ylabel('E2F1 Expression levels', fontsize=6.5, labelpad=2)
ftxt(460, 832, 'E2F1 levels in two', fontsize=7)
ftxt(460, 841, 'MM patient samples', fontsize=7)

fig.savefig('out.png', dpi=100)
